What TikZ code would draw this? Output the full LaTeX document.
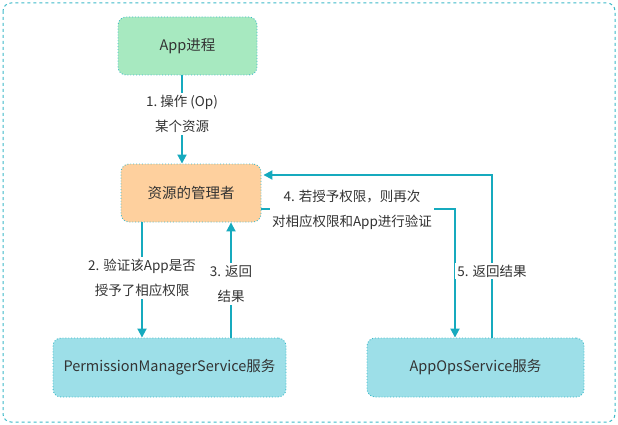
\documentclass[tikz,border=0pt]{standalone}
\usepackage{fontspec}
\setmainfont{Noto Sans CJK SC}
\usetikzlibrary{arrows.meta}
\definecolor{flecha}{RGB}{22,170,190}
\definecolor{borde}{RGB}{60,185,200}
\definecolor{verde}{RGB}{167,233,192}
\definecolor{naranja}{RGB}{254,208,158}
\definecolor{cian}{RGB}{157,223,232}
\definecolor{texto}{RGB}{51,51,51}
\tikzset{
    caja/.style={draw=borde, dotted, line width=0.9pt, rounded corners=8pt, text=texto,
        font=\fontsize{14.5}{17}\selectfont},
    paso/.style={fill=white, text=texto, align=center, inner sep=2pt,
        font=\fontsize{13.5}{25}\selectfont},
    flujo/.style={draw=flecha, line width=1.8pt, -{Triangle[width=9pt,length=9pt]}}
}
\begin{document}
\begin{tikzpicture}[x=1pt,y=-1pt]
        \useasboundingbox (0,0) rectangle (618,425);
        % Marco exterior
        \draw[borde, dashed, line width=1pt, rounded corners=8pt] (3,3) rectangle (615,422);

        % Cajas
        \node[caja, fill=verde, minimum width=139pt, minimum height=58pt] (app) at (187.5,46) {App进程};
        \node[caja, fill=naranja, minimum width=140pt, minimum height=58pt] (mgr) at (191,193) {资源的管理者};
        \node[caja, fill=cian, minimum width=233pt, minimum height=59pt] (pms) at (169.5,367.5) {PermissionManagerService服务};
        \node[caja, fill=cian, minimum width=217pt, minimum height=59pt] (aops) at (475.5,367.5) {AppOpsService服务};

        % Pasos 1 a 3
        \draw[flujo] (app.south -| 182,0) -- (mgr.north -| 182,0);
        \node[paso] (p1) at (182,114) {1.\ 操作 (Op)\\某个资源};
        \draw[flujo] (mgr.south -| 142,0) -- (pms.north -| 142,0);
        \node[paso] (p2) at (142,278) {2. 验证该App是否\\授予了相应权限};
        \draw[flujo] (pms.north -| 231,0) -- (mgr.south -| 231,0);
        \node[paso] (p3) at (231,284) {3. 返回\\结果};

        % Pasos 4 y 5
        \draw[flujo] (mgr.east |- 0,209) -- (455,209) -- (aops.north -| 455,0);
        \node[paso] (p4) at (352,210) {4. 若授予权限，则再次\\对相应权限和App进行验证};
        \draw[flujo] (aops.north -| 492,0) -- (492,175) -- ([xshift=2pt]mgr.east |- 0,175);
        \node[paso] (p5) at (492,271) {5. 返回结果};
    \end{tikzpicture}
\end{document}
